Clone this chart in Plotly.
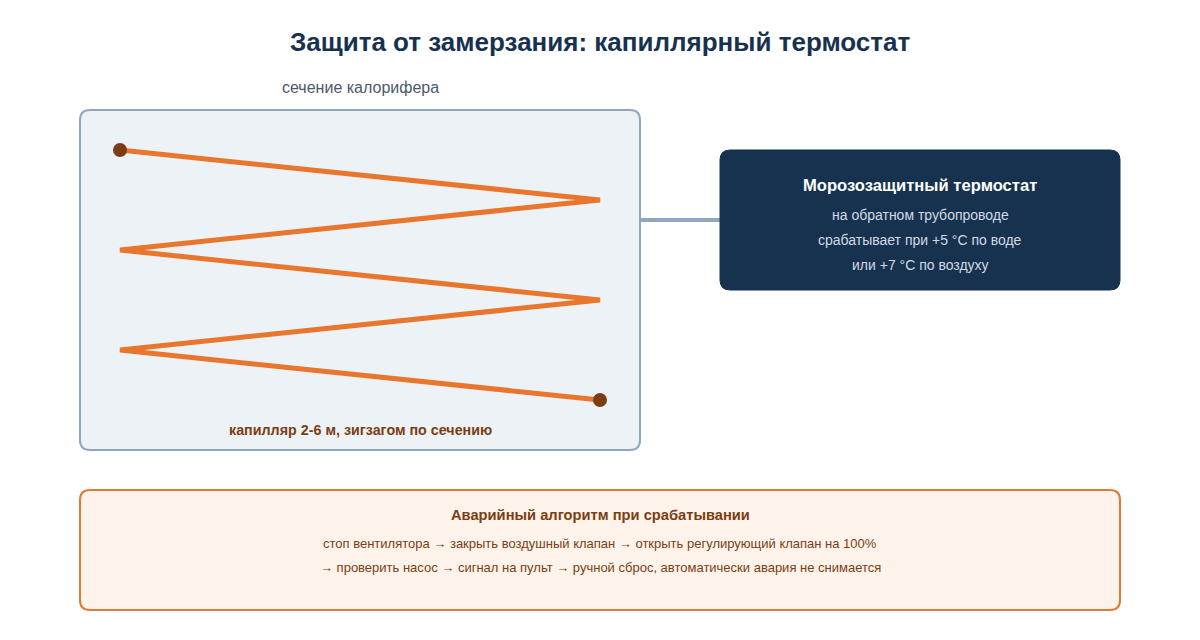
import plotly.graph_objects as go

zig_x = [120, 600, 120, 600, 120, 600]
zig_y = [150, 200, 250, 300, 350, 400]

title = "Защита от замерзания: капиллярный термостат"
section_label = "сечение калорифера"
capillary_label = "капилляр 2-6 м, зигзагом по сечению"
thermo_title = "Морозозащитный термостат"
thermo_lines = ["на обратном трубопроводе", "срабатывает при +5 °C по воде", "или +7 °C по воздуху"]
alg_title = "Аварийный алгоритм при срабатывании"
alg_lines = ["стоп вентилятора → закрыть воздушный клапан → открыть регулирующий клапан на 100%",
             "→ проверить насос → сигнал на пульт → ручной сброс, автоматически авария не снимается"]

FONT = "Liberation Sans, Arial, sans-serif"

def rrect(x0, y0, x1, y1, r):
    return (f"M{x0+r},{y0} L{x1-r},{y0} Q{x1},{y0} {x1},{y0+r} L{x1},{y1-r} Q{x1},{y1} {x1-r},{y1} "
            f"L{x0+r},{y1} Q{x0},{y1} {x0},{y1-r} L{x0},{y0+r} Q{x0},{y0} {x0+r},{y0} Z")

fig = go.Figure()
fig.add_trace(go.Scatter(x=zig_x, y=zig_y, mode="lines", line=dict(color="#e8762d", width=5),
                         hoverinfo="skip", showlegend=False))
fig.add_trace(go.Scatter(x=[zig_x[0], zig_x[-1]], y=[zig_y[0], zig_y[-1]], mode="markers",
                         marker=dict(color="#7a3e12", size=14), hoverinfo="skip", showlegend=False))

shapes = [
    dict(type="path", path=rrect(80, 110, 640, 450, 10), fillcolor="#edf2f7",
         line=dict(color="#8fa8c0", width=2), layer="below"),
    dict(type="line", x0=640, y0=220, x1=720, y1=220, line=dict(color="#8fa8c0", width=4), layer="below"),
    dict(type="path", path=rrect(720, 150, 1120, 290, 10), fillcolor="#17324f",
         line=dict(color="#17324f", width=1), layer="below"),
    dict(type="path", path=rrect(80, 490, 1120, 610, 10), fillcolor="#fdf3ea",
         line=dict(color="#e07a35", width=2), layer="below"),
]

ann = []
def t(x, y, s, size, color, bold=False):
    ann.append(dict(x=x, y=y, text=f"<b>{s}</b>" if bold else s, showarrow=False,
                    font=dict(size=size, color=color, family=FONT), xanchor="center", yanchor="middle"))

t(600, 42, title, 26, "#17324f", True)
t(360, 87, section_label, 16, "#4a5a6a")
t(360, 430, capillary_label, 14.3, "#7a3e12", True)
t(920, 185, thermo_title, 16.6, "#ffffff", True)
for i, s in enumerate(thermo_lines):
    t(920, 215 + i * 25, s, 14, "#d0dae6")
t(600, 515, alg_title, 14.7, "#7a3e12", True)
for i, s in enumerate(alg_lines):
    t(600, 543 + i * 24, s, 13, "#7a3e12")

fig.update_layout(width=1200, height=640, margin=dict(l=0, r=0, t=0, b=0),
                  paper_bgcolor="white", plot_bgcolor="white", shapes=shapes, annotations=ann,
                  xaxis=dict(range=[8, 1208], visible=False, fixedrange=True),
                  yaxis=dict(range=[648, 8], visible=False, fixedrange=True))
fig.write_html("out.html")
